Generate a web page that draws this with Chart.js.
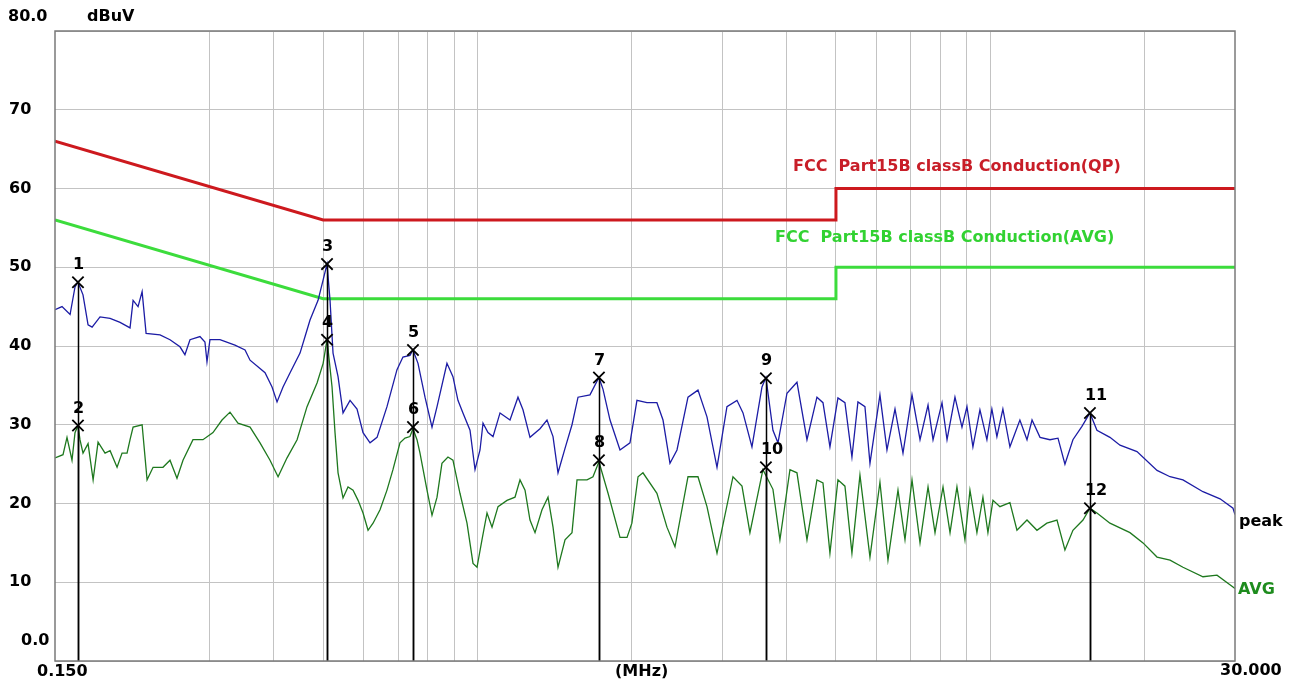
<!DOCTYPE html>
<html>
<head>
<meta charset="utf-8">
<title>Conducted emission 0.15-30 MHz</title>
<script src="https://cdn.jsdelivr.net/npm/chart.js@4.4.1/dist/chart.umd.min.js"></script>
<style>
  html, body { margin: 0; padding: 0; background: #ffffff; }
  #wrap { width: 1296px; height: 686px; }
</style>
</head>
<body>
<div id="wrap"><canvas id="emiChart" width="1296" height="686"></canvas></div>
<script>
// Frecuencias (MHz) y niveles (dBuV)
const peakFreq = [
  0.150, 0.1548, 0.1605, 0.1641, 0.1663, 0.1701, 0.1740, 0.1772, 0.1836, 0.1921,
  0.2009, 0.2101, 0.2130, 0.2178, 0.2218, 0.2258, 0.2404, 0.2514, 0.2629, 0.2688,
  0.2750, 0.2876, 0.2941, 0.2968, 0.3008, 0.3146, 0.3365, 0.3521, 0.3601, 0.3852,
  0.3975, 0.4065, 0.4176, 0.4310, 0.4507, 0.4610, 0.4714, 0.4887, 0.5000, 0.5088,
  0.5157, 0.5227, 0.5346, 0.5467, 0.5642, 0.5822, 0.5981, 0.6172, 0.6369, 0.6660,
  0.6966, 0.7155, 0.7384, 0.7484, 0.7655, 0.7900, 0.8152, 0.8338, 0.8718, 0.8956,
  0.9159, 0.9367, 0.9669, 0.9889, 1.0113, 1.0250, 1.0483, 1.0721, 1.1063, 1.1571,
  1.1993, 1.2265, 1.2657, 1.3239, 1.3661, 1.4036, 1.4354, 1.4813, 1.5285, 1.5704,
  1.657, 1.725, 1.757, 1.813, 1.896, 1.983, 2.046, 2.140, 2.238, 2.300,
  2.373, 2.449, 2.573, 2.691, 2.802, 2.931, 3.065, 3.206, 3.294, 3.429,
  3.587, 3.651, 3.768, 3.854, 4.013, 4.197, 4.390, 4.591, 4.717, 4.867,
  5.045, 5.206, 5.372, 5.519, 5.695, 5.825, 6.092, 6.287, 6.518, 6.756,
  7.035, 7.293, 7.560, 7.732, 8.050, 8.233, 8.532, 8.805, 9.004, 9.248,
  9.544, 9.848, 10.07, 10.30, 10.58, 10.92, 11.42, 11.79, 12.06, 12.50,
  13.07, 13.55, 13.98, 14.49, 15.09, 15.64, 16.14, 17.11, 17.90, 19.32,
  21.14, 22.41, 23.75, 25.98, 28.05, 29.73, 30.0
];
const peakLevel = [
  44.6, 45.0, 44.0, 47.5, 48.1, 46.5, 42.7, 42.4, 43.7, 43.5,
  43.0, 42.3, 45.8, 45.0, 46.9, 41.6, 41.4, 40.8, 39.9, 38.9,
  40.8, 41.2, 40.5, 38.0, 40.8, 40.8, 40.1, 39.5, 38.2, 36.6,
  34.8, 32.9, 34.8, 36.6, 39.1, 41.2, 43.3, 45.8, 48.4, 50.4,
  45.8, 39.1, 36.1, 31.5, 33.1, 32.0, 29.0, 27.7, 28.4, 32.3,
  37.0, 38.6, 38.8, 39.5, 37.8, 33.5, 29.7, 32.3, 37.8, 36.1,
  33.1, 31.5, 29.3, 24.3, 26.8, 30.2, 29.0, 28.5, 31.5, 30.6,
  33.5, 31.9, 28.4, 29.5, 30.6, 28.5, 23.9, 27.0, 30.0, 33.5,
  33.8, 36.0, 34.5, 30.6, 26.8, 27.7, 33.1, 32.8, 32.8, 30.6,
  25.1, 26.8, 33.5, 34.4, 31.0, 24.6, 32.3, 33.1, 31.5, 27.2,
  34.8, 36.0, 29.3, 27.7, 34.0, 35.4, 28.1, 33.5, 32.8, 27.2,
  33.4, 32.8, 25.9, 32.9, 32.3, 25.1, 33.8, 26.8, 32.0, 26.4,
  33.8, 28.1, 32.5, 28.1, 32.8, 28.1, 33.5, 29.7, 32.3, 27.2,
  31.9, 28.1, 32.0, 28.5, 32.0, 27.2, 30.6, 28.1, 30.6, 28.4,
  28.1, 28.3, 25.0, 28.1, 29.8, 31.5, 29.3, 28.4, 27.4, 26.6,
  24.2, 23.4, 23.0, 21.5, 20.6, 19.4, 18.6
];

const avgFreq = [
  0.150, 0.1555, 0.1583, 0.1619, 0.1641, 0.1663, 0.1678, 0.1701, 0.1740, 0.1780,
  0.1820, 0.1878, 0.1921, 0.1982, 0.2027, 0.2073, 0.2101, 0.2130, 0.2218, 0.2268,
  0.2330, 0.2436, 0.2514, 0.2594, 0.2665, 0.2787, 0.2915, 0.3049, 0.3175, 0.3291,
  0.3411, 0.3601, 0.3766, 0.3939, 0.4084, 0.4252, 0.4448, 0.4651, 0.4865, 0.5000,
  0.5088, 0.5204, 0.5274, 0.5346, 0.5467, 0.5591, 0.5719, 0.5849, 0.5981, 0.6117,
  0.6256, 0.6455, 0.6660, 0.6841, 0.7060, 0.7221, 0.7384, 0.7484, 0.7621, 0.7724,
  0.7971, 0.8152, 0.8338, 0.8524, 0.8757, 0.8956, 0.9242, 0.9539, 0.9800, 0.9978,
  1.0204, 1.0436, 1.0673, 1.0965, 1.1416, 1.1833, 1.2102, 1.2378, 1.2657, 1.2946,
  1.3358, 1.3724, 1.4036, 1.4354, 1.4813, 1.5285, 1.5633, 1.6351, 1.6795, 1.725,
  1.797, 1.896, 1.957, 2.000, 2.056, 2.102, 2.238, 2.341, 2.427, 2.573,
  2.691, 2.802, 2.931, 3.149, 3.279, 3.398, 3.602, 3.768, 3.888, 4.067,
  4.197, 4.390, 4.591, 4.717, 4.867, 5.045, 5.206, 5.372, 5.569, 5.825,
  6.092, 6.315, 6.606, 6.817, 7.035, 7.293, 7.560, 7.801, 8.086, 8.345,
  8.608, 8.923, 9.126, 9.416, 9.673, 9.893, 10.12, 10.44, 10.92, 11.27,
  11.79, 12.33, 12.89, 13.49, 13.98, 14.49, 15.16, 15.64, 16.14, 17.11,
  18.72, 19.85, 21.14, 22.41, 23.75, 25.98, 27.67, 29.73, 30.0
];
const avgLevel = [
  25.8, 26.2, 28.4, 25.5, 29.0, 29.9, 28.1, 26.4, 27.6, 23.0,
  27.8, 26.4, 26.7, 24.6, 26.4, 26.4, 28.1, 29.7, 30.0, 23.0,
  24.6, 24.6, 25.5, 23.2, 25.5, 28.1, 28.1, 29.0, 30.6, 31.6,
  30.2, 29.7, 27.7, 25.5, 23.4, 25.8, 28.1, 32.3, 35.3, 37.8,
  40.8, 34.8, 29.0, 23.9, 20.7, 22.1, 21.7, 20.4, 18.8, 16.6,
  17.5, 19.2, 21.7, 24.3, 27.7, 28.3, 28.5, 29.5, 28.1, 26.4,
  21.7, 18.5, 20.8, 25.1, 25.9, 25.5, 21.3, 17.5, 12.4, 11.9,
  15.4, 18.8, 17.0, 19.6, 20.4, 20.8, 23.0, 21.7, 17.9, 16.3,
  19.2, 20.8, 17.0, 11.9, 15.4, 16.3, 23.0, 23.0, 23.4, 25.3,
  21.3, 15.7, 15.7, 17.5, 23.4, 23.9, 21.3, 17.0, 14.5, 23.4,
  23.4, 19.6, 13.7, 23.4, 22.2, 16.3, 24.3, 21.8, 15.4, 24.3,
  23.9, 15.4, 23.0, 22.6, 13.7, 23.0, 22.2, 13.7, 23.6, 13.2,
  22.7, 12.8, 21.7, 15.4, 23.0, 15.0, 22.1, 16.3, 22.1, 16.3,
  22.1, 15.4, 21.7, 16.3, 20.8, 16.3, 20.4, 19.6, 20.1, 16.6,
  17.9, 16.6, 17.5, 17.9, 14.1, 16.6, 17.9, 19.4, 18.8, 17.5,
  16.3, 15.0, 13.2, 12.8, 11.9, 10.7, 10.9, 9.4, 9.2
];

// Límites FCC Part15B clase B
const limitFreq = [0.15, 0.5, 5, 5, 30];
const qpLimit = [66, 56, 56, 60, 60];
const avgLimit = [56, 46, 46, 50, 50];

// Marcadores
const markerNo = ['1', '2', '3', '4', '5', '6', '7', '8', '9', '10', '11', '12'];
const markerFreq = [0.1663, 0.1663, 0.5088, 0.5088, 0.7484, 0.7484, 1.725, 1.725, 3.651, 3.651, 15.64, 15.64];
const markerLevel = [48.1, 29.9, 50.4, 40.8, 39.5, 29.7, 36.0, 25.5, 35.9, 24.6, 31.5, 19.4];

// Ejes
const gridFreqs = [0.3, 0.4, 0.5, 0.6, 0.7, 0.8, 0.9, 1, 2, 3, 4, 5, 6, 7, 8, 9, 10, 20];
const yTicks = [0, 10, 20, 30, 40, 50, 60, 70, 80];
const yTickLabels = ['0.0', '10', '20', '30', '40', '50', '60', '70', '80.0'];
const xEndLabels = ['0.150', '30.000'];
const xUnit = '(MHz)';
const yUnit = 'dBuV';
const qpTitle = 'FCC  Part15B classB Conduction(QP)';
const avgTitle = 'FCC  Part15B classB Conduction(AVG)';

const toXY = (xs, ys) => xs.map((x, i) => ({ x: x, y: ys[i] }));

const FONT = '"DejaVu Sans", sans-serif';

// Plugin para textos, marco y líneas de los marcadores
const overlay = {
  id: 'overlay',
  afterDatasetsDraw(chart) {
    const { ctx, chartArea, scales } = chart;
    ctx.save();
    ctx.strokeStyle = '#000000';
    ctx.lineWidth = 1.5;
    markerFreq.forEach((f, i) => {
      const px = Math.round(scales.x.getPixelForValue(f)) + 0.5;
      const py = scales.y.getPixelForValue(markerLevel[i]);
      ctx.beginPath();
      ctx.moveTo(px, py);
      ctx.lineTo(px, chartArea.bottom);
      ctx.stroke();
    });
    ctx.fillStyle = '#000000';
    ctx.font = 'bold 16px ' + FONT;
    ctx.textAlign = 'left';
    ctx.textBaseline = 'middle';
    markerFreq.forEach((f, i) => {
      const px = scales.x.getPixelForValue(f);
      const py = scales.y.getPixelForValue(markerLevel[i]);
      ctx.fillText(markerNo[i], px - 5, py - 17);
    });
    ctx.restore();
  },
  afterDraw(chart) {
    const { ctx, chartArea, scales } = chart;
    ctx.save();
    // marco
    ctx.strokeStyle = '#7a7a7a';
    ctx.lineWidth = 1.5;
    ctx.strokeRect(chartArea.left, chartArea.top, chartArea.right - chartArea.left, chartArea.bottom - chartArea.top);

    ctx.font = 'bold 16px ' + FONT;
    ctx.textBaseline = 'middle';
    ctx.fillStyle = '#000000';
    // etiquetas eje Y
    yTicks.forEach((v, i) => {
      let py = scales.y.getPixelForValue(v);
      let px = 9;
      if (v === 80) { py -= 14; px = 8; }
      if (v === 0) { py -= 20; px = 21; }
      ctx.textAlign = 'left';
      ctx.fillText(yTickLabels[i], px, py);
    });
    ctx.fillText(yUnit, 87, 17);
    // etiquetas eje X
    ctx.fillText(xEndLabels[0], 37, chartArea.bottom + 11);
    ctx.fillText(xEndLabels[1], 1220, chartArea.bottom + 10);
    ctx.fillText(xUnit, 615, chartArea.bottom + 11);
    // nombres de trazas
    ctx.fillText('peak', chartArea.right + 4, 522);
    ctx.fillStyle = 'rgb(30,140,30)';
    ctx.fillText('AVG', chartArea.right + 3, 590);
    // títulos de límites
    ctx.fillStyle = 'rgb(200,30,40)';
    ctx.fillText(qpTitle, 793, 167);
    ctx.fillStyle = 'rgb(50,210,50)';
    ctx.fillText(avgTitle, 775, 238);
    ctx.restore();
  }
};

const ctx = document.getElementById('emiChart').getContext('2d');
new Chart(ctx, {
  type: 'line',
  data: {
    datasets: [
      {
        label: 'Markers',
        data: toXY(markerFreq, markerLevel),
        showLine: false,
        pointStyle: 'crossRot',
        pointRadius: 8,
        pointBorderColor: '#000000',
        pointBorderWidth: 1.8,
        order: 0
      },
      {
        label: 'peak',
        data: toXY(peakFreq, peakLevel),
        borderColor: 'rgb(28,28,165)',
        borderWidth: 1.3,
        pointRadius: 0,
        tension: 0,
        order: 1
      },
      {
        label: 'AVG',
        data: toXY(avgFreq, avgLevel),
        borderColor: 'rgb(30,120,30)',
        borderWidth: 1.3,
        pointRadius: 0,
        tension: 0,
        order: 2
      },
      {
        label: 'QP limit',
        data: toXY(limitFreq, qpLimit),
        borderColor: 'rgb(205,25,30)',
        borderWidth: 3,
        pointRadius: 0,
        order: 3
      },
      {
        label: 'AVG limit',
        data: toXY(limitFreq, avgLimit),
        borderColor: 'rgb(60,220,60)',
        borderWidth: 3,
        pointRadius: 0,
        order: 4
      }
    ]
  },
  options: {
    responsive: false,
    animation: false,
    devicePixelRatio: 1,
    layout: { padding: { left: 55, right: 61, top: 31, bottom: 25 } },
    plugins: {
      legend: { display: false },
      tooltip: { enabled: false }
    },
    scales: {
      x: {
        type: 'logarithmic',
        min: 0.15,
        max: 30,
        afterBuildTicks: (scale) => {
          scale.ticks = gridFreqs.map(v => ({ value: v }));
        },
        ticks: { display: false },
        grid: { color: 'rgb(195,195,195)', lineWidth: 1, drawTicks: false },
        border: { display: false }
      },
      y: {
        type: 'linear',
        min: 0,
        max: 80,
        ticks: { display: false, stepSize: 10 },
        grid: { color: 'rgb(195,195,195)', lineWidth: 1, drawTicks: false },
        border: { display: false }
      }
    }
  },
  plugins: [overlay]
});
</script>
</body>
</html>
